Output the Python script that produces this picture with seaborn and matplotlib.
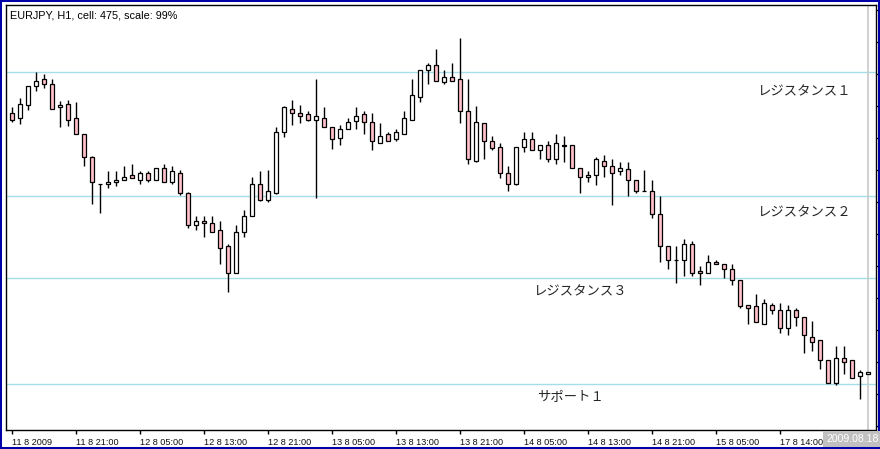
import numpy as np
import pandas as pd
import seaborn as sns
import matplotlib.pyplot as plt
from matplotlib.patches import Rectangle

sns.set_theme(style="white")
plt.rcParams["font.family"] = ["Liberation Sans", "Noto Sans CJK JP", "DejaVu Sans"]

# EURJPY H1 candles (open, high, low, close)
opens = [137.89, 137.81, 138.01, 138.32, 138.42, 138.35, 137.98, 138.03, 137.81, 137.56,
         137.21, 136.79, 136.79, 136.82, 136.85, 136.92, 136.85, 136.95, 136.84, 137.04,
         136.81, 136.96, 136.65, 136.14, 136.20, 136.17, 136.06, 135.81, 135.40, 136.03,
         136.29, 136.79, 136.53, 136.65, 137.60, 137.96, 137.89, 137.87, 137.78, 137.82,
         137.68, 137.50, 137.64, 137.76, 137.87, 137.75, 137.43, 137.56, 137.48, 137.57,
         137.79, 138.14, 138.57, 138.64, 138.37, 138.46, 138.42, 137.92, 137.15, 137.73,
         137.46, 137.36, 136.95, 136.78, 137.36, 137.48, 137.32, 137.39, 137.17, 137.40,
         137.39, 137.03, 136.89, 136.92, 137.15, 137.06, 136.98, 137.01, 136.84, 136.68,
         136.68, 136.32, 135.81, 135.60, 135.60, 135.85, 135.42, 135.40, 135.56, 135.54,
         135.46, 135.28, 134.89, 134.87, 134.60, 134.90, 134.82, 134.54, 134.82, 134.70,
         134.40, 134.34, 134.03, 133.68, 134.07, 134.03, 133.78, 133.82]
highs = [137.98, 138.12, 138.31, 138.54, 138.50, 138.43, 138.08, 138.10, 138.06, 137.56,
         137.22, 136.79, 136.98, 136.98, 137.06, 137.10, 136.98, 136.98, 137.03, 137.10,
         137.07, 137.00, 136.66, 136.28, 136.28, 136.29, 136.20, 135.85, 136.14, 136.37,
         136.90, 136.98, 137.00, 137.67, 138.00, 138.09, 138.01, 137.92, 138.42, 137.98,
         137.68, 137.70, 137.81, 137.98, 137.93, 137.89, 137.73, 137.59, 137.65, 137.93,
         138.42, 138.57, 138.68, 138.90, 138.57, 138.68, 139.07, 138.42, 138.00, 137.73,
         137.54, 137.43, 137.06, 137.36, 137.60, 137.60, 137.39, 137.45, 137.57, 137.54,
         137.39, 137.03, 136.98, 137.20, 137.23, 137.18, 137.12, 137.12, 136.85, 137.00,
         136.84, 136.59, 135.81, 135.81, 135.93, 135.90, 135.50, 135.68, 135.60, 135.54,
         135.54, 135.28, 134.90, 135.06, 134.98, 134.93, 134.92, 134.90, 134.85, 134.70,
         134.65, 134.35, 134.04, 134.25, 134.25, 134.03, 133.87, 133.85]
lows = [137.75, 137.72, 137.94, 138.24, 138.29, 137.96, 137.68, 137.69, 137.56, 137.07,
        136.47, 136.33, 136.72, 136.75, 136.85, 136.87, 136.79, 136.82, 136.84, 136.82,
        136.79, 136.61, 136.10, 136.07, 135.95, 136.04, 135.54, 135.09, 135.39, 135.96,
        136.28, 136.51, 136.50, 136.62, 137.51, 137.71, 137.73, 137.76, 136.56, 137.68,
        137.33, 137.39, 137.64, 137.65, 137.56, 137.31, 137.42, 137.45, 137.45, 137.57,
        137.79, 138.06, 138.34, 138.39, 138.34, 138.39, 137.73, 137.10, 137.12, 137.17,
        137.31, 136.87, 136.67, 136.76, 137.28, 137.32, 137.18, 137.12, 137.09, 137.12,
        137.03, 136.64, 136.82, 136.76, 136.89, 136.45, 136.93, 136.60, 136.65, 136.67,
        136.25, 135.57, 135.45, 135.23, 135.34, 135.34, 135.20, 135.40, 135.54, 135.32,
        135.20, 134.85, 134.60, 134.62, 134.59, 134.76, 134.46, 134.42, 134.56, 134.15,
        134.18, 133.90, 133.68, 133.64, 133.81, 133.76, 133.42, 133.82]
closes = [137.79, 138.03, 138.31, 138.40, 138.34, 137.96, 138.01, 137.79, 137.57, 137.21,
          136.81, 136.78, 136.81, 136.85, 136.90, 136.87, 136.95, 136.85, 137.03, 136.82,
          136.98, 136.65, 136.14, 136.20, 136.18, 136.04, 135.79, 135.40, 136.03, 136.29,
          136.79, 136.54, 136.67, 137.59, 137.98, 137.90, 137.85, 137.78, 137.84, 137.68,
          137.48, 137.65, 137.75, 137.85, 137.75, 137.45, 137.54, 137.46, 137.59, 137.81,
          138.17, 138.56, 138.64, 138.39, 138.45, 138.40, 137.93, 137.17, 137.75, 137.45,
          137.34, 136.95, 136.79, 137.36, 137.48, 137.32, 137.39, 137.18, 137.42, 137.37,
          137.03, 136.90, 136.93, 137.17, 137.06, 136.96, 137.03, 136.84, 136.68, 136.67,
          136.32, 135.81, 135.59, 135.59, 135.84, 135.40, 135.40, 135.56, 135.54, 135.45,
          135.28, 134.87, 134.85, 134.62, 134.92, 134.81, 134.54, 134.81, 134.71, 134.42,
          134.32, 134.04, 133.68, 134.06, 134.01, 133.76, 133.85, 133.85]

tick_labels = ["11 8 2009", "11 8 21:00", "12 8 05:00", "12 8 13:00", "12 8 21:00",
               "13 8 05:00", "13 8 13:00", "13 8 21:00", "14 8 05:00", "14 8 13:00",
               "14 8 21:00", "15 8 05:00", "17 8 14:00"]

level_names = ["レジスタンス１", "レジスタンス２", "レジスタンス３", "サポート１"]
level_prices = [138.53, 136.59, 135.31, 133.66]

df = pd.DataFrame({"open": opens, "high": highs, "low": lows, "close": closes})
df["bar"] = np.arange(len(df))
df["up"] = df["close"] >= df["open"]
df["body_lo"] = df[["open", "close"]].min(axis=1)
df["body_h"] = (df["close"] - df["open"]).abs()

fig = plt.figure(figsize=(8.8, 4.49), dpi=100)
ax = fig.add_axes([6 / 880, 19 / 449, 870 / 880, 425 / 449])
ax.set_facecolor("white")

# support / resistance lines
for p in level_prices:
    ax.axhline(p, color="#a6dde8", lw=1.0, zorder=1)

# last-bar marker line (chart shift)
ax.axvline(len(df) - 1, color="#c8c8c8", lw=1.2, zorder=1)

# wicks, then bodies
ax.vlines(df["bar"], df["low"], df["high"], colors="black", lw=1.0, zorder=2)
ax.bar(df["bar"], df["body_h"], bottom=df["body_lo"], width=0.48,
       color=np.where(df["up"], "white", "#ffbfc9"), edgecolor="black",
       linewidth=0.9, zorder=3)

ax.set_xlim(-0.79, 107.96)
ax.set_ylim(132.94, 139.58)

ax.set_xticks(np.arange(0, 8 * len(tick_labels), 8))
ax.set_xticklabels(tick_labels, fontsize=6.6, ha="left", color="#111111")
ax.tick_params(axis="x", direction="out", length=3, width=1, pad=2.5,
               bottom=True, color="black")
ax.yaxis.tick_right()
ax.set_yticks(np.arange(133.0, 139.51, 0.5))
ax.tick_params(axis="y", direction="out", length=3, width=1, right=True,
               labelright=False, color="black")
for s in ax.spines.values():
    s.set_visible(True)
    s.set_color("black")
    s.set_linewidth(1.0)

# level labels
jp = ["Noto Sans CJK JP", "DejaVu Sans"]
ax.text(93.1, 138.23, level_names[0], fontsize=9.6, va="center", family=jp)
ax.text(93.1, 136.34, level_names[1], fontsize=9.6, va="center", family=jp)
ax.text(65.1, 135.11, level_names[2], fontsize=9.6, va="center", family=jp)
ax.text(65.6, 133.45, level_names[3], fontsize=9.6, va="center", family=jp)

fig.text(10 / 880, 1 - 15.5 / 449, "EURJPY, H1, cell: 475, scale: 99%",
         fontsize=7.8, va="center", ha="left", color="black")

fig.text(826 / 880, 1 - 439 / 449, "2009.08.18", fontsize=7.6, color="white",
         va="center", ha="left",
         bbox=dict(facecolor="#c0c0c0", edgecolor="none", pad=2.2))

fig.patches.append(Rectangle((0, 0), 1, 1, transform=fig.transFigure,
                             fill=False, edgecolor="#0000a8", lw=2.9))

fig.savefig("out.png", dpi=100, facecolor="white")
